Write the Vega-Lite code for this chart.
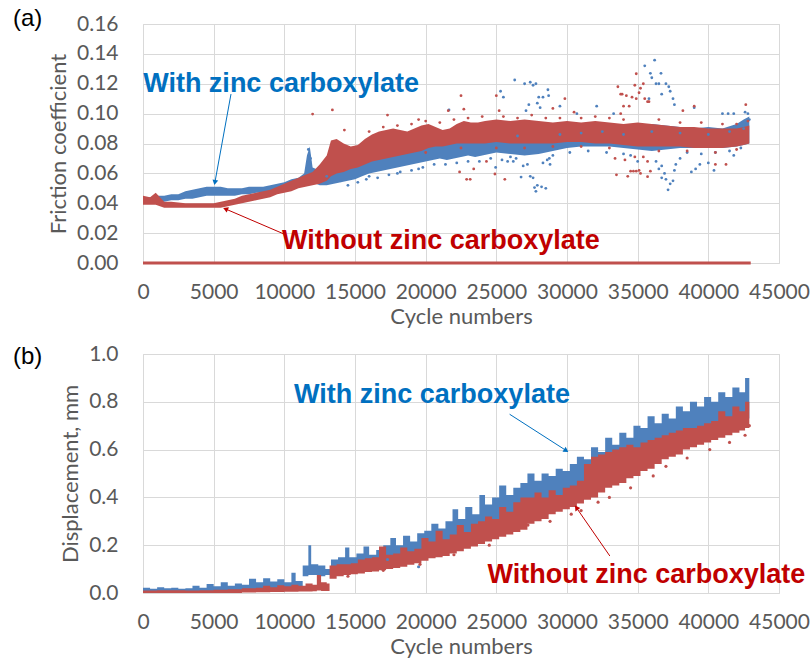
{
  "$schema": "https://vega.github.io/schema/vega-lite/v6.json",
  "background": "white",
  "padding": {"left": 12, "top": 6, "right": 4, "bottom": 4},
  "spacing": 14,
  "config": {
    "font": "Lato",
    "view": {"stroke": "#d9d9d9", "strokeWidth": 1},
    "axis": {
      "labelFont": "Lato", "labelFontSize": 21, "labelColor": "#595959",
      "titleFont": "Lato", "titleFontSize": 22, "titleFontWeight": "normal", "titleColor": "#595959",
      "grid": true, "gridColor": "#d9d9d9", "gridWidth": 1,
      "domain": false, "ticks": false, "labelFlush": false, "labelOverlap": false
    },
    "axisX": {"labelPadding": 18, "titlePadding": 4},
    "axisY": {"labelPadding": 25, "titlePadding": 6},
    "title": {"font": "Liberation Sans", "fontSize": 24, "fontWeight": "normal", "color": "#000000", "anchor": "start", "frame": "group", "offset": 0}
  },
  "datasets": {
    "note": [{}],
    "fricZero": [{"x": 0, "y": 0}, {"x": 43000, "y": 0}],
    "fricBlueBand": [
      {"x": 0, "lo": 0.040, "hi": 0.044}, {"x": 500, "lo": 0.040, "hi": 0.044}, {"x": 1000, "lo": 0.041, "hi": 0.045},
      {"x": 1500, "lo": 0.041, "hi": 0.045}, {"x": 2000, "lo": 0.042, "hi": 0.046}, {"x": 2500, "lo": 0.042, "hi": 0.046},
      {"x": 3000, "lo": 0.043, "hi": 0.048}, {"x": 3500, "lo": 0.043, "hi": 0.049}, {"x": 4000, "lo": 0.044, "hi": 0.050},
      {"x": 4500, "lo": 0.045, "hi": 0.051}, {"x": 5000, "lo": 0.045, "hi": 0.051}, {"x": 5500, "lo": 0.045, "hi": 0.051},
      {"x": 6000, "lo": 0.045, "hi": 0.050}, {"x": 6500, "lo": 0.045, "hi": 0.050}, {"x": 7000, "lo": 0.046, "hi": 0.050},
      {"x": 7500, "lo": 0.046, "hi": 0.051}, {"x": 8000, "lo": 0.047, "hi": 0.051}, {"x": 8500, "lo": 0.047, "hi": 0.051},
      {"x": 9000, "lo": 0.048, "hi": 0.052}, {"x": 9500, "lo": 0.049, "hi": 0.053}, {"x": 10000, "lo": 0.050, "hi": 0.054},
      {"x": 10500, "lo": 0.051, "hi": 0.056}, {"x": 11000, "lo": 0.052, "hi": 0.057}, {"x": 11400, "lo": 0.053, "hi": 0.060},
      {"x": 11600, "lo": 0.055, "hi": 0.072}, {"x": 11800, "lo": 0.058, "hi": 0.078}, {"x": 12000, "lo": 0.054, "hi": 0.064},
      {"x": 12500, "lo": 0.052, "hi": 0.062}, {"x": 13000, "lo": 0.052, "hi": 0.063}, {"x": 13500, "lo": 0.053, "hi": 0.063},
      {"x": 14000, "lo": 0.054, "hi": 0.064}, {"x": 14500, "lo": 0.055, "hi": 0.066}, {"x": 15000, "lo": 0.056, "hi": 0.068},
      {"x": 15500, "lo": 0.058, "hi": 0.069}, {"x": 16000, "lo": 0.060, "hi": 0.072}, {"x": 16500, "lo": 0.061, "hi": 0.073},
      {"x": 17000, "lo": 0.062, "hi": 0.074}, {"x": 17500, "lo": 0.063, "hi": 0.075}, {"x": 18000, "lo": 0.064, "hi": 0.076},
      {"x": 18500, "lo": 0.065, "hi": 0.077}, {"x": 19000, "lo": 0.066, "hi": 0.077}, {"x": 19500, "lo": 0.067, "hi": 0.078},
      {"x": 20000, "lo": 0.068, "hi": 0.080}, {"x": 20500, "lo": 0.069, "hi": 0.080}, {"x": 21000, "lo": 0.070, "hi": 0.081},
      {"x": 21500, "lo": 0.069, "hi": 0.082}, {"x": 22000, "lo": 0.070, "hi": 0.082}, {"x": 22500, "lo": 0.071, "hi": 0.083},
      {"x": 23000, "lo": 0.072, "hi": 0.083}, {"x": 23500, "lo": 0.071, "hi": 0.082}, {"x": 24000, "lo": 0.072, "hi": 0.084},
      {"x": 24500, "lo": 0.073, "hi": 0.085}, {"x": 25000, "lo": 0.074, "hi": 0.086}, {"x": 26000, "lo": 0.073, "hi": 0.087},
      {"x": 27000, "lo": 0.072, "hi": 0.087}, {"x": 28000, "lo": 0.073, "hi": 0.088}, {"x": 29000, "lo": 0.075, "hi": 0.089},
      {"x": 30000, "lo": 0.077, "hi": 0.090}, {"x": 31000, "lo": 0.078, "hi": 0.090}, {"x": 32000, "lo": 0.078, "hi": 0.091},
      {"x": 33000, "lo": 0.078, "hi": 0.090}, {"x": 34000, "lo": 0.077, "hi": 0.092}, {"x": 35000, "lo": 0.076, "hi": 0.093},
      {"x": 36000, "lo": 0.075, "hi": 0.093}, {"x": 37000, "lo": 0.076, "hi": 0.092}, {"x": 38000, "lo": 0.077, "hi": 0.091},
      {"x": 39000, "lo": 0.077, "hi": 0.090}, {"x": 40000, "lo": 0.077, "hi": 0.091}, {"x": 41000, "lo": 0.077, "hi": 0.090},
      {"x": 42000, "lo": 0.078, "hi": 0.093}, {"x": 42500, "lo": 0.079, "hi": 0.096}, {"x": 42900, "lo": 0.080, "hi": 0.098}
    ],
    "fricRedBand": [
      {"x": 0, "lo": 0.039, "hi": 0.045}, {"x": 500, "lo": 0.039, "hi": 0.044}, {"x": 900, "lo": 0.039, "hi": 0.047},
      {"x": 1200, "lo": 0.038, "hi": 0.044}, {"x": 1500, "lo": 0.037, "hi": 0.041}, {"x": 2000, "lo": 0.037, "hi": 0.041},
      {"x": 3000, "lo": 0.037, "hi": 0.040}, {"x": 4000, "lo": 0.037, "hi": 0.040}, {"x": 5000, "lo": 0.037, "hi": 0.040},
      {"x": 5500, "lo": 0.037, "hi": 0.041}, {"x": 6000, "lo": 0.038, "hi": 0.042}, {"x": 6500, "lo": 0.039, "hi": 0.043},
      {"x": 7000, "lo": 0.040, "hi": 0.045}, {"x": 7500, "lo": 0.041, "hi": 0.046}, {"x": 8000, "lo": 0.042, "hi": 0.047},
      {"x": 8500, "lo": 0.043, "hi": 0.048}, {"x": 9000, "lo": 0.044, "hi": 0.049}, {"x": 9500, "lo": 0.046, "hi": 0.051},
      {"x": 10000, "lo": 0.047, "hi": 0.053}, {"x": 10500, "lo": 0.048, "hi": 0.055}, {"x": 11000, "lo": 0.050, "hi": 0.057},
      {"x": 11500, "lo": 0.051, "hi": 0.059}, {"x": 12000, "lo": 0.052, "hi": 0.061}, {"x": 12500, "lo": 0.053, "hi": 0.066},
      {"x": 13000, "lo": 0.055, "hi": 0.072}, {"x": 13300, "lo": 0.058, "hi": 0.082}, {"x": 13700, "lo": 0.060, "hi": 0.083},
      {"x": 14200, "lo": 0.061, "hi": 0.080}, {"x": 14700, "lo": 0.063, "hi": 0.078}, {"x": 15200, "lo": 0.064, "hi": 0.079},
      {"x": 15700, "lo": 0.066, "hi": 0.083}, {"x": 16200, "lo": 0.068, "hi": 0.086}, {"x": 16700, "lo": 0.069, "hi": 0.088},
      {"x": 17200, "lo": 0.070, "hi": 0.089}, {"x": 17700, "lo": 0.071, "hi": 0.090}, {"x": 18200, "lo": 0.072, "hi": 0.089},
      {"x": 18700, "lo": 0.073, "hi": 0.088}, {"x": 19200, "lo": 0.074, "hi": 0.090}, {"x": 19700, "lo": 0.075, "hi": 0.092},
      {"x": 20200, "lo": 0.077, "hi": 0.093}, {"x": 20700, "lo": 0.078, "hi": 0.091}, {"x": 21200, "lo": 0.078, "hi": 0.089},
      {"x": 21700, "lo": 0.079, "hi": 0.090}, {"x": 22200, "lo": 0.080, "hi": 0.093}, {"x": 22700, "lo": 0.080, "hi": 0.095},
      {"x": 23200, "lo": 0.080, "hi": 0.094}, {"x": 23700, "lo": 0.080, "hi": 0.094}, {"x": 24200, "lo": 0.080, "hi": 0.095},
      {"x": 25000, "lo": 0.081, "hi": 0.096}, {"x": 26000, "lo": 0.080, "hi": 0.095}, {"x": 27000, "lo": 0.080, "hi": 0.096},
      {"x": 28000, "lo": 0.080, "hi": 0.095}, {"x": 29000, "lo": 0.080, "hi": 0.094}, {"x": 30000, "lo": 0.081, "hi": 0.095},
      {"x": 31000, "lo": 0.081, "hi": 0.094}, {"x": 32000, "lo": 0.080, "hi": 0.095}, {"x": 33000, "lo": 0.080, "hi": 0.094},
      {"x": 34000, "lo": 0.079, "hi": 0.093}, {"x": 35000, "lo": 0.078, "hi": 0.094}, {"x": 36000, "lo": 0.078, "hi": 0.093},
      {"x": 37000, "lo": 0.078, "hi": 0.092}, {"x": 38000, "lo": 0.078, "hi": 0.091}, {"x": 39000, "lo": 0.077, "hi": 0.091},
      {"x": 40000, "lo": 0.077, "hi": 0.090}, {"x": 41000, "lo": 0.077, "hi": 0.090}, {"x": 42000, "lo": 0.078, "hi": 0.090},
      {"x": 42500, "lo": 0.079, "hi": 0.091}, {"x": 42900, "lo": 0.080, "hi": 0.092}
    ],
    "fricBluePts": [
      {"x": 11650, "y": 0.066}, {"x": 11700, "y": 0.076}, {"x": 11750, "y": 0.072}, {"x": 11800, "y": 0.068}, {"x": 11850, "y": 0.070},
      {"x": 13000, "y": 0.058}, {"x": 14000, "y": 0.055}, {"x": 16000, "y": 0.058}, {"x": 18000, "y": 0.060}, {"x": 19500, "y": 0.063},
      {"x": 14500, "y": 0.052}, {"x": 15200, "y": 0.054}, {"x": 15800, "y": 0.056}, {"x": 16600, "y": 0.057}, {"x": 17400, "y": 0.059},
      {"x": 18200, "y": 0.061}, {"x": 19000, "y": 0.062}, {"x": 19800, "y": 0.064}, {"x": 20600, "y": 0.066}, {"x": 21400, "y": 0.066},
      {"x": 22200, "y": 0.067}, {"x": 23000, "y": 0.068}, {"x": 23800, "y": 0.068}, {"x": 24600, "y": 0.070}, {"x": 25400, "y": 0.069},
      {"x": 26200, "y": 0.068}, {"x": 29000, "y": 0.072}, {"x": 30200, "y": 0.074}, {"x": 31500, "y": 0.075}, {"x": 32800, "y": 0.074},
      {"x": 34000, "y": 0.073}, {"x": 38500, "y": 0.074}, {"x": 39500, "y": 0.073}, {"x": 40500, "y": 0.074}, {"x": 41500, "y": 0.075},
      {"x": 42300, "y": 0.077}, {"x": 26500, "y": 0.085}, {"x": 29500, "y": 0.086}, {"x": 31000, "y": 0.087}, {"x": 32500, "y": 0.088},
      {"x": 34000, "y": 0.086}, {"x": 36000, "y": 0.088}, {"x": 38000, "y": 0.087}, {"x": 40000, "y": 0.086}, {"x": 41500, "y": 0.088},
      {"x": 42500, "y": 0.090}, {"x": 42700, "y": 0.094}, {"x": 42900, "y": 0.096},
      {"x": 21650, "y": 0.1025}, {"x": 24950, "y": 0.064}, {"x": 25300, "y": 0.115}, {"x": 25500, "y": 0.111}, {"x": 26300, "y": 0.1225},
      {"x": 26750, "y": 0.0575}, {"x": 27000, "y": 0.120}, {"x": 27300, "y": 0.106}, {"x": 27400, "y": 0.121}, {"x": 27600, "y": 0.119},
      {"x": 27800, "y": 0.120}, {"x": 28000, "y": 0.111}, {"x": 28100, "y": 0.104}, {"x": 28300, "y": 0.111}, {"x": 28650, "y": 0.116},
      {"x": 28700, "y": 0.112}, {"x": 26900, "y": 0.065}, {"x": 27200, "y": 0.066}, {"x": 27400, "y": 0.058}, {"x": 27600, "y": 0.057},
      {"x": 27700, "y": 0.0505}, {"x": 27800, "y": 0.048}, {"x": 27900, "y": 0.052}, {"x": 28200, "y": 0.051}, {"x": 28500, "y": 0.050},
      {"x": 28300, "y": 0.067}, {"x": 28600, "y": 0.069}, {"x": 28800, "y": 0.066}, {"x": 26000, "y": 0.071}, {"x": 26400, "y": 0.070},
      {"x": 25800, "y": 0.068}, {"x": 28750, "y": 0.070}, {"x": 27100, "y": 0.102}, {"x": 27900, "y": 0.107}, {"x": 29500, "y": 0.105},
      {"x": 30700, "y": 0.100}, {"x": 32100, "y": 0.105}, {"x": 33300, "y": 0.100},
      {"x": 35500, "y": 0.132}, {"x": 36200, "y": 0.1358}, {"x": 35900, "y": 0.127}, {"x": 36000, "y": 0.124}, {"x": 36650, "y": 0.127},
      {"x": 36300, "y": 0.120}, {"x": 36500, "y": 0.120}, {"x": 37000, "y": 0.120}, {"x": 37200, "y": 0.118}, {"x": 37300, "y": 0.115},
      {"x": 37500, "y": 0.110}, {"x": 37600, "y": 0.106}, {"x": 36700, "y": 0.113}, {"x": 35800, "y": 0.110}, {"x": 39000, "y": 0.104},
      {"x": 41000, "y": 0.100}, {"x": 41400, "y": 0.100}, {"x": 41800, "y": 0.100}, {"x": 42600, "y": 0.101}, {"x": 42800, "y": 0.100},
      {"x": 37150, "y": 0.049}, {"x": 37300, "y": 0.053}, {"x": 37500, "y": 0.055}, {"x": 37000, "y": 0.056}, {"x": 36700, "y": 0.057},
      {"x": 36900, "y": 0.060}, {"x": 36500, "y": 0.063}, {"x": 36700, "y": 0.065}, {"x": 37600, "y": 0.062}, {"x": 37700, "y": 0.066},
      {"x": 36300, "y": 0.068}, {"x": 38800, "y": 0.061}, {"x": 39100, "y": 0.063}, {"x": 39400, "y": 0.066}, {"x": 40000, "y": 0.067},
      {"x": 40400, "y": 0.062}, {"x": 38000, "y": 0.070}, {"x": 35000, "y": 0.068}, {"x": 34500, "y": 0.072}, {"x": 41800, "y": 0.072}
    ],
    "fricRedPts": [
      {"x": 12000, "y": 0.0997}, {"x": 13400, "y": 0.1025}, {"x": 14250, "y": 0.089}, {"x": 17300, "y": 0.099}, {"x": 19500, "y": 0.096},
      {"x": 22500, "y": 0.112}, {"x": 21600, "y": 0.102}, {"x": 22700, "y": 0.103}, {"x": 22400, "y": 0.061}, {"x": 22900, "y": 0.056},
      {"x": 23150, "y": 0.056}, {"x": 23400, "y": 0.063}, {"x": 24300, "y": 0.068}, {"x": 25000, "y": 0.112}, {"x": 25200, "y": 0.102},
      {"x": 24900, "y": 0.0596}, {"x": 25600, "y": 0.056}, {"x": 29850, "y": 0.110}, {"x": 29000, "y": 0.1035}, {"x": 30500, "y": 0.101},
      {"x": 33600, "y": 0.118}, {"x": 33900, "y": 0.113}, {"x": 34200, "y": 0.112}, {"x": 33800, "y": 0.113}, {"x": 34000, "y": 0.105},
      {"x": 34400, "y": 0.105}, {"x": 34900, "y": 0.1267}, {"x": 34800, "y": 0.119}, {"x": 35200, "y": 0.117}, {"x": 35400, "y": 0.120},
      {"x": 34600, "y": 0.111}, {"x": 34900, "y": 0.110}, {"x": 35100, "y": 0.114}, {"x": 35500, "y": 0.110}, {"x": 35700, "y": 0.108},
      {"x": 35800, "y": 0.108}, {"x": 33800, "y": 0.100}, {"x": 34100, "y": 0.069}, {"x": 34500, "y": 0.0615}, {"x": 34700, "y": 0.0615},
      {"x": 34900, "y": 0.0615}, {"x": 35100, "y": 0.062}, {"x": 34300, "y": 0.058}, {"x": 35200, "y": 0.060}, {"x": 35700, "y": 0.0578},
      {"x": 35900, "y": 0.0615}, {"x": 34800, "y": 0.071}, {"x": 35400, "y": 0.071}, {"x": 35700, "y": 0.068}, {"x": 33500, "y": 0.059},
      {"x": 33400, "y": 0.070}, {"x": 39000, "y": 0.105}, {"x": 41250, "y": 0.066}, {"x": 42650, "y": 0.106}, {"x": 40500, "y": 0.066},
      {"x": 38200, "y": 0.102},
      {"x": 16000, "y": 0.088}, {"x": 17000, "y": 0.091}, {"x": 18000, "y": 0.092}, {"x": 19000, "y": 0.093}, {"x": 20000, "y": 0.095},
      {"x": 21000, "y": 0.094}, {"x": 22000, "y": 0.096}, {"x": 23000, "y": 0.097}, {"x": 24000, "y": 0.098}, {"x": 25500, "y": 0.098},
      {"x": 26500, "y": 0.097}, {"x": 27500, "y": 0.099}, {"x": 28500, "y": 0.097}, {"x": 29500, "y": 0.097}, {"x": 31000, "y": 0.097},
      {"x": 32000, "y": 0.098}, {"x": 33000, "y": 0.097}, {"x": 34000, "y": 0.096}, {"x": 36500, "y": 0.096}, {"x": 38000, "y": 0.094},
      {"x": 39500, "y": 0.094}, {"x": 41000, "y": 0.093}, {"x": 42000, "y": 0.093}, {"x": 42800, "y": 0.095},
      {"x": 20000, "y": 0.074}, {"x": 22500, "y": 0.077}, {"x": 25000, "y": 0.077}, {"x": 27000, "y": 0.077}, {"x": 29000, "y": 0.078},
      {"x": 31000, "y": 0.078}, {"x": 33000, "y": 0.077}, {"x": 36500, "y": 0.075}, {"x": 38500, "y": 0.075}, {"x": 40500, "y": 0.074},
      {"x": 42000, "y": 0.076}
    ],
    "dispBlueBand": [
      {"x": 0, "lo": 0.003, "hi": 0.022}, {"x": 500, "lo": 0.004, "hi": 0.018}, {"x": 1000, "lo": 0.004, "hi": 0.024},
      {"x": 1500, "lo": 0.004, "hi": 0.020}, {"x": 2000, "lo": 0.004, "hi": 0.022}, {"x": 2500, "lo": 0.004, "hi": 0.018},
      {"x": 3000, "lo": 0.004, "hi": 0.020}, {"x": 3500, "lo": 0.004, "hi": 0.030}, {"x": 4000, "lo": 0.005, "hi": 0.022},
      {"x": 4500, "lo": 0.005, "hi": 0.038}, {"x": 5000, "lo": 0.005, "hi": 0.028}, {"x": 5500, "lo": 0.006, "hi": 0.045},
      {"x": 6000, "lo": 0.006, "hi": 0.030}, {"x": 6500, "lo": 0.007, "hi": 0.040}, {"x": 7000, "lo": 0.008, "hi": 0.035},
      {"x": 7500, "lo": 0.009, "hi": 0.060}, {"x": 8000, "lo": 0.010, "hi": 0.045}, {"x": 8500, "lo": 0.010, "hi": 0.062},
      {"x": 9000, "lo": 0.012, "hi": 0.048}, {"x": 9500, "lo": 0.012, "hi": 0.058}, {"x": 10000, "lo": 0.014, "hi": 0.045},
      {"x": 10500, "lo": 0.014, "hi": 0.085}, {"x": 10800, "lo": 0.015, "hi": 0.050}, {"x": 11300, "lo": 0.070, "hi": 0.115},
      {"x": 11700, "lo": 0.075, "hi": 0.200}, {"x": 11900, "lo": 0.075, "hi": 0.120}, {"x": 12400, "lo": 0.070, "hi": 0.115},
      {"x": 12900, "lo": 0.075, "hi": 0.100}, {"x": 13300, "lo": 0.080, "hi": 0.140}, {"x": 13800, "lo": 0.085, "hi": 0.150},
      {"x": 14300, "lo": 0.090, "hi": 0.190}, {"x": 14600, "lo": 0.092, "hi": 0.150}, {"x": 15100, "lo": 0.095, "hi": 0.165},
      {"x": 15600, "lo": 0.100, "hi": 0.195}, {"x": 16000, "lo": 0.105, "hi": 0.160}, {"x": 16500, "lo": 0.110, "hi": 0.180},
      {"x": 17000, "lo": 0.115, "hi": 0.200}, {"x": 17500, "lo": 0.120, "hi": 0.230}, {"x": 17900, "lo": 0.125, "hi": 0.200},
      {"x": 18400, "lo": 0.130, "hi": 0.240}, {"x": 18900, "lo": 0.140, "hi": 0.215}, {"x": 19400, "lo": 0.150, "hi": 0.250},
      {"x": 19900, "lo": 0.160, "hi": 0.260}, {"x": 20400, "lo": 0.170, "hi": 0.290}, {"x": 20900, "lo": 0.180, "hi": 0.270},
      {"x": 21400, "lo": 0.190, "hi": 0.300}, {"x": 21900, "lo": 0.200, "hi": 0.350}, {"x": 22300, "lo": 0.210, "hi": 0.310},
      {"x": 22800, "lo": 0.220, "hi": 0.360}, {"x": 23300, "lo": 0.230, "hi": 0.330}, {"x": 23800, "lo": 0.240, "hi": 0.410},
      {"x": 24200, "lo": 0.250, "hi": 0.370}, {"x": 24700, "lo": 0.260, "hi": 0.400}, {"x": 25200, "lo": 0.270, "hi": 0.450},
      {"x": 25700, "lo": 0.280, "hi": 0.410}, {"x": 26200, "lo": 0.290, "hi": 0.440}, {"x": 26700, "lo": 0.300, "hi": 0.460},
      {"x": 27200, "lo": 0.310, "hi": 0.500}, {"x": 27700, "lo": 0.320, "hi": 0.470}, {"x": 28200, "lo": 0.330, "hi": 0.500},
      {"x": 28700, "lo": 0.340, "hi": 0.490}, {"x": 29200, "lo": 0.360, "hi": 0.520}, {"x": 29700, "lo": 0.380, "hi": 0.510},
      {"x": 30200, "lo": 0.400, "hi": 0.540}, {"x": 30700, "lo": 0.420, "hi": 0.570}, {"x": 31200, "lo": 0.440, "hi": 0.560},
      {"x": 31700, "lo": 0.460, "hi": 0.610}, {"x": 32200, "lo": 0.480, "hi": 0.590}, {"x": 32700, "lo": 0.500, "hi": 0.650},
      {"x": 33200, "lo": 0.520, "hi": 0.620}, {"x": 33700, "lo": 0.540, "hi": 0.670}, {"x": 34200, "lo": 0.550, "hi": 0.650},
      {"x": 34700, "lo": 0.560, "hi": 0.700}, {"x": 35200, "lo": 0.580, "hi": 0.690}, {"x": 35700, "lo": 0.590, "hi": 0.740},
      {"x": 36200, "lo": 0.600, "hi": 0.710}, {"x": 36700, "lo": 0.610, "hi": 0.750}, {"x": 37200, "lo": 0.620, "hi": 0.730},
      {"x": 37700, "lo": 0.630, "hi": 0.780}, {"x": 38200, "lo": 0.640, "hi": 0.760}, {"x": 38700, "lo": 0.650, "hi": 0.800},
      {"x": 39200, "lo": 0.660, "hi": 0.780}, {"x": 39700, "lo": 0.670, "hi": 0.820}, {"x": 40200, "lo": 0.680, "hi": 0.800},
      {"x": 40700, "lo": 0.690, "hi": 0.840}, {"x": 41200, "lo": 0.700, "hi": 0.820}, {"x": 41700, "lo": 0.710, "hi": 0.860},
      {"x": 42200, "lo": 0.720, "hi": 0.840}, {"x": 42600, "lo": 0.730, "hi": 0.900}, {"x": 42900, "lo": 0.740, "hi": 0.880}
    ],
    "dispRedBand": [
      {"x": 0, "lo": 0.000, "hi": 0.010}, {"x": 1000, "lo": 0.000, "hi": 0.012}, {"x": 2000, "lo": 0.000, "hi": 0.012},
      {"x": 3000, "lo": 0.000, "hi": 0.010}, {"x": 4000, "lo": 0.000, "hi": 0.012}, {"x": 5000, "lo": 0.000, "hi": 0.014},
      {"x": 6000, "lo": 0.000, "hi": 0.016}, {"x": 7000, "lo": 0.002, "hi": 0.020}, {"x": 8000, "lo": 0.003, "hi": 0.022},
      {"x": 8500, "lo": 0.003, "hi": 0.030}, {"x": 9000, "lo": 0.004, "hi": 0.024}, {"x": 9500, "lo": 0.004, "hi": 0.032},
      {"x": 10000, "lo": 0.005, "hi": 0.028}, {"x": 10500, "lo": 0.005, "hi": 0.035}, {"x": 11000, "lo": 0.006, "hi": 0.030},
      {"x": 11500, "lo": 0.006, "hi": 0.040}, {"x": 12000, "lo": 0.007, "hi": 0.035}, {"x": 12300, "lo": 0.010, "hi": 0.075},
      {"x": 12600, "lo": 0.008, "hi": 0.045}, {"x": 13000, "lo": 0.008, "hi": 0.040}, {"x": 13200, "lo": 0.060, "hi": 0.115},
      {"x": 13700, "lo": 0.070, "hi": 0.120}, {"x": 14200, "lo": 0.075, "hi": 0.120}, {"x": 14700, "lo": 0.078, "hi": 0.125},
      {"x": 15200, "lo": 0.082, "hi": 0.140}, {"x": 15700, "lo": 0.088, "hi": 0.145}, {"x": 16200, "lo": 0.090, "hi": 0.150},
      {"x": 16700, "lo": 0.095, "hi": 0.195}, {"x": 17200, "lo": 0.100, "hi": 0.160}, {"x": 17700, "lo": 0.105, "hi": 0.165},
      {"x": 18200, "lo": 0.110, "hi": 0.190}, {"x": 18700, "lo": 0.118, "hi": 0.175}, {"x": 19200, "lo": 0.125, "hi": 0.185},
      {"x": 19700, "lo": 0.135, "hi": 0.230}, {"x": 20200, "lo": 0.145, "hi": 0.215}, {"x": 20700, "lo": 0.150, "hi": 0.260},
      {"x": 21200, "lo": 0.155, "hi": 0.225}, {"x": 21700, "lo": 0.165, "hi": 0.245}, {"x": 22200, "lo": 0.175, "hi": 0.285},
      {"x": 22700, "lo": 0.185, "hi": 0.255}, {"x": 23200, "lo": 0.195, "hi": 0.290}, {"x": 23700, "lo": 0.205, "hi": 0.300},
      {"x": 24200, "lo": 0.215, "hi": 0.320}, {"x": 24700, "lo": 0.225, "hi": 0.310}, {"x": 25200, "lo": 0.235, "hi": 0.360},
      {"x": 25700, "lo": 0.245, "hi": 0.340}, {"x": 26200, "lo": 0.255, "hi": 0.380}, {"x": 26700, "lo": 0.265, "hi": 0.400},
      {"x": 27200, "lo": 0.290, "hi": 0.400}, {"x": 27700, "lo": 0.300, "hi": 0.420}, {"x": 28200, "lo": 0.310, "hi": 0.400},
      {"x": 28700, "lo": 0.330, "hi": 0.430}, {"x": 29200, "lo": 0.340, "hi": 0.410}, {"x": 29700, "lo": 0.350, "hi": 0.440},
      {"x": 30200, "lo": 0.360, "hi": 0.450}, {"x": 30700, "lo": 0.375, "hi": 0.470}, {"x": 31200, "lo": 0.390, "hi": 0.540},
      {"x": 31700, "lo": 0.400, "hi": 0.570}, {"x": 32200, "lo": 0.420, "hi": 0.580}, {"x": 32700, "lo": 0.440, "hi": 0.590},
      {"x": 33200, "lo": 0.450, "hi": 0.600}, {"x": 33700, "lo": 0.460, "hi": 0.610}, {"x": 34200, "lo": 0.480, "hi": 0.620},
      {"x": 34700, "lo": 0.490, "hi": 0.610}, {"x": 35200, "lo": 0.510, "hi": 0.630}, {"x": 35700, "lo": 0.520, "hi": 0.640},
      {"x": 36200, "lo": 0.540, "hi": 0.650}, {"x": 36700, "lo": 0.560, "hi": 0.660}, {"x": 37200, "lo": 0.570, "hi": 0.670},
      {"x": 37700, "lo": 0.580, "hi": 0.680}, {"x": 38200, "lo": 0.600, "hi": 0.690}, {"x": 38700, "lo": 0.610, "hi": 0.690},
      {"x": 39200, "lo": 0.620, "hi": 0.700}, {"x": 39700, "lo": 0.630, "hi": 0.710}, {"x": 40200, "lo": 0.640, "hi": 0.720},
      {"x": 40700, "lo": 0.650, "hi": 0.760}, {"x": 41200, "lo": 0.660, "hi": 0.740}, {"x": 41700, "lo": 0.670, "hi": 0.780},
      {"x": 42200, "lo": 0.680, "hi": 0.760}, {"x": 42600, "lo": 0.690, "hi": 0.800}, {"x": 42900, "lo": 0.700, "hi": 0.820}
    ],
    "dispBluePts": [
      {"x": 19500, "y": 0.110}, {"x": 17300, "y": 0.140}
    ],
    "dispRedPts": [
      {"x": 14500, "y": 0.070}, {"x": 17000, "y": 0.095}, {"x": 19600, "y": 0.120}, {"x": 22000, "y": 0.160}, {"x": 24500, "y": 0.200},
      {"x": 27240, "y": 0.284}, {"x": 28800, "y": 0.300}, {"x": 30300, "y": 0.330}, {"x": 31000, "y": 0.345}, {"x": 32200, "y": 0.380},
      {"x": 33000, "y": 0.400}, {"x": 34500, "y": 0.440}, {"x": 36100, "y": 0.490}, {"x": 37000, "y": 0.530}, {"x": 38500, "y": 0.565},
      {"x": 40100, "y": 0.600}, {"x": 41500, "y": 0.630}, {"x": 42600, "y": 0.660}, {"x": 42900, "y": 0.700}
    ]
  },
  "vconcat": [
    {
      "width": 636,
      "height": 239,
      "title": {"text": "(a)", "dx": -130, "dy": 22},
      "layer": [
        {
          "data": {"name": "fricZero"},
          "mark": {"type": "line", "color": "#C0504D", "strokeWidth": 3},
          "encoding": {
            "x": {"field": "x", "type": "quantitative", "scale": {"domain": [0, 45000], "nice": false},
                  "axis": {"values": [0, 5000, 10000, 15000, 20000, 25000, 30000, 35000, 40000, 45000], "tickCount": 20, "format": "d", "title": "Cycle numbers", "labelOverlap": false}},
            "y": {"field": "y", "type": "quantitative", "scale": {"domain": [0, 0.16], "nice": false},
                  "axis": {"values": [0, 0.02, 0.04, 0.06, 0.08, 0.1, 0.12, 0.14, 0.16], "tickCount": 20, "format": ".2f", "title": "Friction coefficient", "labelOverlap": false}}
          }
        },
        {
          "data": {"name": "fricBlueBand"},
          "mark": {"type": "area", "color": "#4F81BD"},
          "encoding": {
            "x": {"field": "x", "type": "quantitative", "title": "Cycle numbers"},
            "y": {"field": "lo", "type": "quantitative", "title": "Friction coefficient"}, "y2": {"field": "hi"}
          }
        },
        {
          "data": {"name": "fricRedBand"},
          "mark": {"type": "area", "color": "#C0504D"},
          "encoding": {
            "x": {"field": "x", "type": "quantitative", "title": "Cycle numbers"},
            "y": {"field": "lo", "type": "quantitative", "title": "Friction coefficient"}, "y2": {"field": "hi"}
          }
        },
        {
          "data": {"name": "fricBluePts"},
          "mark": {"type": "point", "filled": true, "size": 8, "opacity": 1, "color": "#4F81BD"},
          "encoding": {
            "x": {"field": "x", "type": "quantitative", "title": "Cycle numbers"},
            "y": {"field": "y", "type": "quantitative", "title": "Friction coefficient"}
          }
        },
        {
          "data": {"name": "fricRedPts"},
          "mark": {"type": "point", "filled": true, "size": 8, "opacity": 1, "color": "#C0504D"},
          "encoding": {
            "x": {"field": "x", "type": "quantitative", "title": "Cycle numbers"},
            "y": {"field": "y", "type": "quantitative", "title": "Friction coefficient"}
          }
        },
        {
          "data": {"name": "note"},
          "mark": {"type": "rule", "color": "#0070C0", "strokeWidth": 1},
          "encoding": {"x": {"datum": 6226, "type": "quantitative"}, "y": {"datum": 0.1131, "type": "quantitative"},
                       "x2": {"datum": 5087}, "y2": {"datum": 0.0539}}
        },
        {
          "data": {"name": "note"},
          "mark": {"type": "point", "shape": "triangle-up", "filled": true, "size": 34, "opacity": 1, "color": "#0070C0", "angle": 190.8},
          "encoding": {"x": {"datum": 5087, "type": "quantitative"}, "y": {"datum": 0.0539, "type": "quantitative"}}
        },
        {
          "data": {"name": "note"},
          "mark": {"type": "rule", "color": "#C00000", "strokeWidth": 1},
          "encoding": {"x": {"datum": 9976, "type": "quantitative"}, "y": {"datum": 0.0194, "type": "quantitative"},
                       "x2": {"datum": 5837}, "y2": {"datum": 0.0362}}
        },
        {
          "data": {"name": "note"},
          "mark": {"type": "point", "shape": "triangle-up", "filled": true, "size": 34, "opacity": 1, "color": "#C00000", "angle": 293.2},
          "encoding": {"x": {"datum": 5837, "type": "quantitative"}, "y": {"datum": 0.0362, "type": "quantitative"}}
        },
        {
          "data": {"name": "note"},
          "mark": {"type": "text", "text": "With zinc carboxylate", "font": "Liberation Sans", "fontWeight": "bold", "fontSize": 27,
                   "color": "#0070C0", "align": "left", "baseline": "alphabetic"},
          "encoding": {"x": {"datum": 10, "type": "quantitative"}, "y": {"datum": 0.1147, "type": "quantitative"}}
        },
        {
          "data": {"name": "note"},
          "mark": {"type": "text", "text": "Without zinc carboxylate", "font": "Liberation Sans", "fontWeight": "bold", "fontSize": 27,
                   "color": "#C00000", "align": "left", "baseline": "alphabetic"},
          "encoding": {"x": {"datum": 9835, "type": "quantitative"}, "y": {"datum": 0.0096, "type": "quantitative"}}
        }
      ]
    },
    {
      "width": 636,
      "height": 239,
      "title": {"text": "(b)", "dx": -130, "dy": 30},
      "layer": [
        {
          "data": {"name": "dispBlueBand"},
          "mark": {"type": "area", "color": "#4F81BD", "interpolate": "step-after"},
          "encoding": {
            "x": {"field": "x", "type": "quantitative", "scale": {"domain": [0, 45000], "nice": false},
                  "axis": {"values": [0, 5000, 10000, 15000, 20000, 25000, 30000, 35000, 40000, 45000], "tickCount": 20, "format": "d", "title": "Cycle numbers", "labelOverlap": false}},
            "y": {"field": "lo", "type": "quantitative", "scale": {"domain": [0, 1], "nice": false},
                  "axis": {"values": [0, 0.2, 0.4, 0.6, 0.8, 1.0], "tickCount": 20, "format": ".1f", "title": "Displacement, mm", "labelOverlap": false}},
            "y2": {"field": "hi"}
          }
        },
        {
          "data": {"name": "dispRedBand"},
          "mark": {"type": "area", "color": "#C0504D", "interpolate": "step-after"},
          "encoding": {
            "x": {"field": "x", "type": "quantitative", "title": "Cycle numbers"},
            "y": {"field": "lo", "type": "quantitative", "title": "Displacement, mm"}, "y2": {"field": "hi"}
          }
        },
        {
          "data": {"name": "dispBluePts"},
          "mark": {"type": "point", "filled": true, "size": 10, "opacity": 1, "color": "#4F81BD"},
          "encoding": {
            "x": {"field": "x", "type": "quantitative", "title": "Cycle numbers"},
            "y": {"field": "y", "type": "quantitative", "title": "Displacement, mm"}
          }
        },
        {
          "data": {"name": "dispRedPts"},
          "mark": {"type": "point", "filled": true, "size": 10, "opacity": 1, "color": "#C0504D"},
          "encoding": {
            "x": {"field": "x", "type": "quantitative", "title": "Cycle numbers"},
            "y": {"field": "y", "type": "quantitative", "title": "Displacement, mm"}
          }
        },
        {
          "data": {"name": "note"},
          "mark": {"type": "rule", "color": "#0070C0", "strokeWidth": 1},
          "encoding": {"x": {"datum": 25940, "type": "quantitative"}, "y": {"datum": 0.748, "type": "quantitative"},
                       "x2": {"datum": 29943}, "y2": {"datum": 0.596}}
        },
        {
          "data": {"name": "note"},
          "mark": {"type": "point", "shape": "triangle-up", "filled": true, "size": 34, "opacity": 1, "color": "#0070C0", "angle": 122.8},
          "encoding": {"x": {"datum": 29943, "type": "quantitative"}, "y": {"datum": 0.596, "type": "quantitative"}}
        },
        {
          "data": {"name": "note"},
          "mark": {"type": "rule", "color": "#C00000", "strokeWidth": 1},
          "encoding": {"x": {"datum": 33030, "type": "quantitative"}, "y": {"datum": 0.155, "type": "quantitative"},
                       "x2": {"datum": 30665}, "y2": {"datum": 0.357}}
        },
        {
          "data": {"name": "note"},
          "mark": {"type": "point", "shape": "triangle-up", "filled": true, "size": 34, "opacity": 1, "color": "#C00000", "angle": 325.5},
          "encoding": {"x": {"datum": 30665, "type": "quantitative"}, "y": {"datum": 0.357, "type": "quantitative"}}
        },
        {
          "data": {"name": "note"},
          "mark": {"type": "text", "text": "With zinc carboxylate", "font": "Liberation Sans", "fontWeight": "bold", "fontSize": 27,
                   "color": "#0070C0", "align": "left", "baseline": "alphabetic"},
          "encoding": {"x": {"datum": 10690, "type": "quantitative"}, "y": {"datum": 0.793, "type": "quantitative"}}
        },
        {
          "data": {"name": "note"},
          "mark": {"type": "text", "text": "Without zinc carboxylate", "font": "Liberation Sans", "fontWeight": "bold", "fontSize": 27,
                   "color": "#C00000", "align": "left", "baseline": "alphabetic"},
          "encoding": {"x": {"datum": 24380, "type": "quantitative"}, "y": {"datum": 0.043, "type": "quantitative"}}
        }
      ]
    }
  ]
}
